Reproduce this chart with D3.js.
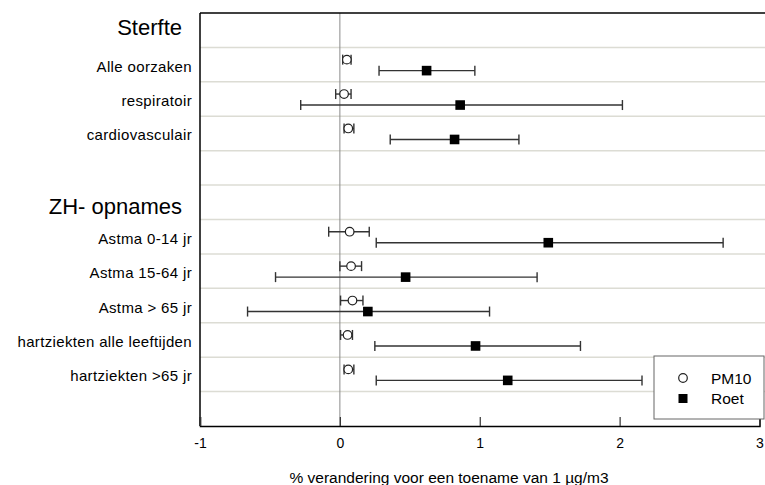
<!DOCTYPE html>
<html>
<head>
<meta charset="utf-8">
<script src="https://cdn.jsdelivr.net/npm/d3@7"></script>
<style>
  html, body { margin: 0; padding: 0; background: #fff; }
  svg { display: block; font-family: "Liberation Sans", Arial, sans-serif; }
</style>
</head>
<body>
<svg id="chart" width="765" height="485"></svg>
<script>
// ---- data ----
const headings = ["Sterfte", "ZH- opnames"];
const headingRows = [0, 5];
const outcomes = ["Alle oorzaken", "respiratoir", "cardiovasculair",
  "Astma 0-14 jr", "Astma 15-64 jr", "Astma > 65 jr",
  "hartziekten alle leeftijden", "hartziekten >65 jr"];
const outcomeRows = [1, 2, 3, 6, 7, 8, 9, 10];
const pm10Est = [0.05, 0.03, 0.06, 0.07, 0.08, 0.09, 0.055, 0.06];
const pm10Lo  = [0.02, -0.03, 0.03, -0.08, 0.00, 0.005, 0.005, 0.03];
const pm10Hi  = [0.08, 0.08, 0.10, 0.21, 0.155, 0.165, 0.09, 0.10];
const roetEst = [0.62, 0.86, 0.82, 1.49, 0.47, 0.20, 0.97, 1.20];
const roetLo  = [0.28, -0.28, 0.36, 0.26, -0.46, -0.66, 0.25, 0.26];
const roetHi  = [0.965, 2.02, 1.28, 2.74, 1.41, 1.07, 1.72, 2.16];
const xTicks = [-1, 0, 1, 2, 3];
const series = ["PM10", "Roet"];
const xTitle = "% verandering voor een toename van 1 µg/m3";

// ---- layout ----
const svg = d3.select("#chart");
const mLeft = 200, mTop = 13, mBottom = 426, nRows = 12;
const x = d3.scaleLinear().domain([-1, 3]).range([mLeft, 759.5]);
const y = d3.scaleLinear().domain([0, nRows]).range([mTop, mBottom]);
const rowMid = i => (y(i) + y(i + 1)) / 2;

// gridlines between rows
svg.append("g").selectAll("line").data(d3.range(1, nRows)).join("line")
  .attr("x1", mLeft).attr("x2", 765)
  .attr("y1", d => y(d)).attr("y2", d => y(d))
  .attr("stroke", "#dcdcd4").attr("stroke-width", 1.5);

// zero line
svg.append("line").attr("x1", x(0)).attr("x2", x(0))
  .attr("y1", mTop).attr("y2", mBottom)
  .attr("stroke", "#8a8a8a").attr("stroke-width", 1);

// frame: left and top
svg.append("line").attr("x1", mLeft).attr("x2", mLeft).attr("y1", mTop).attr("y2", mBottom)
  .attr("stroke", "#000").attr("stroke-width", 1.5);
svg.append("line").attr("x1", mLeft).attr("x2", 765).attr("y1", mTop).attr("y2", mTop)
  .attr("stroke", "#000").attr("stroke-width", 1.5);

// x axis (ticks inside)
const axis = svg.append("g").attr("transform", `translate(0,${mBottom})`)
  .call(d3.axisBottom(x).tickValues(xTicks).tickFormat(d3.format("d")).tickSize(-9).tickPadding(0));
axis.select(".domain").attr("stroke", "#000").attr("stroke-width", 1.5);
axis.selectAll(".tick line").attr("stroke", "#333").attr("stroke-width", 1.2);
axis.selectAll(".tick text").attr("y", 12).attr("font-size", 14)
  .attr("font-family", "Liberation Sans, Arial, sans-serif").attr("fill", "#000")
  .text(d => d < 0 ? "-" + Math.abs(d) : d);

// axis title
svg.append("text").attr("x", 449).attr("y", 483).attr("text-anchor", "middle")
  .attr("font-size", 15.5).text(xTitle);

// headings
const headingDy = [5, 11.5];
svg.append("g").selectAll("text").data(headings).join("text")
  .attr("x", 182).attr("y", (d, i) => rowMid(headingRows[i]) + headingDy[i])
  .attr("text-anchor", "end").attr("font-size", 22).text(d => d);

// outcome labels
svg.append("g").selectAll("text").data(outcomes).join("text")
  .attr("x", 192).attr("y", (d, i) => rowMid(outcomeRows[i]) + 7)
  .attr("text-anchor", "end").attr("font-size", 15).attr("letter-spacing", 0.35)
  .text(d => d);

// error bars
function drawBars(est, lo, hi, dy, shape) {
  const g = svg.append("g");
  outcomes.forEach((o, i) => {
    const cy = rowMid(outcomeRows[i]) + dy;
    g.append("line").attr("x1", x(lo[i])).attr("x2", x(hi[i])).attr("y1", cy).attr("y2", cy)
      .attr("stroke", "#333").attr("stroke-width", 1.4);
    [lo[i], hi[i]].forEach(v => {
      g.append("line").attr("x1", x(v)).attr("x2", x(v)).attr("y1", cy - 5).attr("y2", cy + 5)
        .attr("stroke", "#333").attr("stroke-width", 1.4);
    });
    if (shape === "circle") {
      g.append("circle").attr("cx", x(est[i])).attr("cy", cy).attr("r", 4.3)
        .attr("fill", "#fff").attr("stroke", "#222").attr("stroke-width", 1.2);
    } else {
      g.append("rect").attr("x", x(est[i]) - 4.8).attr("y", cy - 4.8).attr("width", 9.6).attr("height", 9.6)
        .attr("fill", "#000");
    }
  });
}
drawBars(pm10Est, pm10Lo, pm10Hi, -5, "circle");
drawBars(roetEst, roetLo, roetHi, 6, "square");

// legend
const lg = svg.append("g");
lg.append("rect").attr("x", 654).attr("y", 356).attr("width", 110).attr("height", 63)
  .attr("fill", "#fff").attr("stroke", "#666").attr("stroke-width", 1);
lg.append("circle").attr("cx", 683).attr("cy", 378).attr("r", 4.3)
  .attr("fill", "#fff").attr("stroke", "#222").attr("stroke-width", 1.2);
lg.append("rect").attr("x", 678.5).attr("y", 394).attr("width", 9).attr("height", 9).attr("fill", "#000");
lg.selectAll("text").data(series).join("text")
  .attr("x", 711).attr("y", (d, i) => 383.5 + i * 20.5).attr("font-size", 15.5).text(d => d);
</script>
</body>
</html>
